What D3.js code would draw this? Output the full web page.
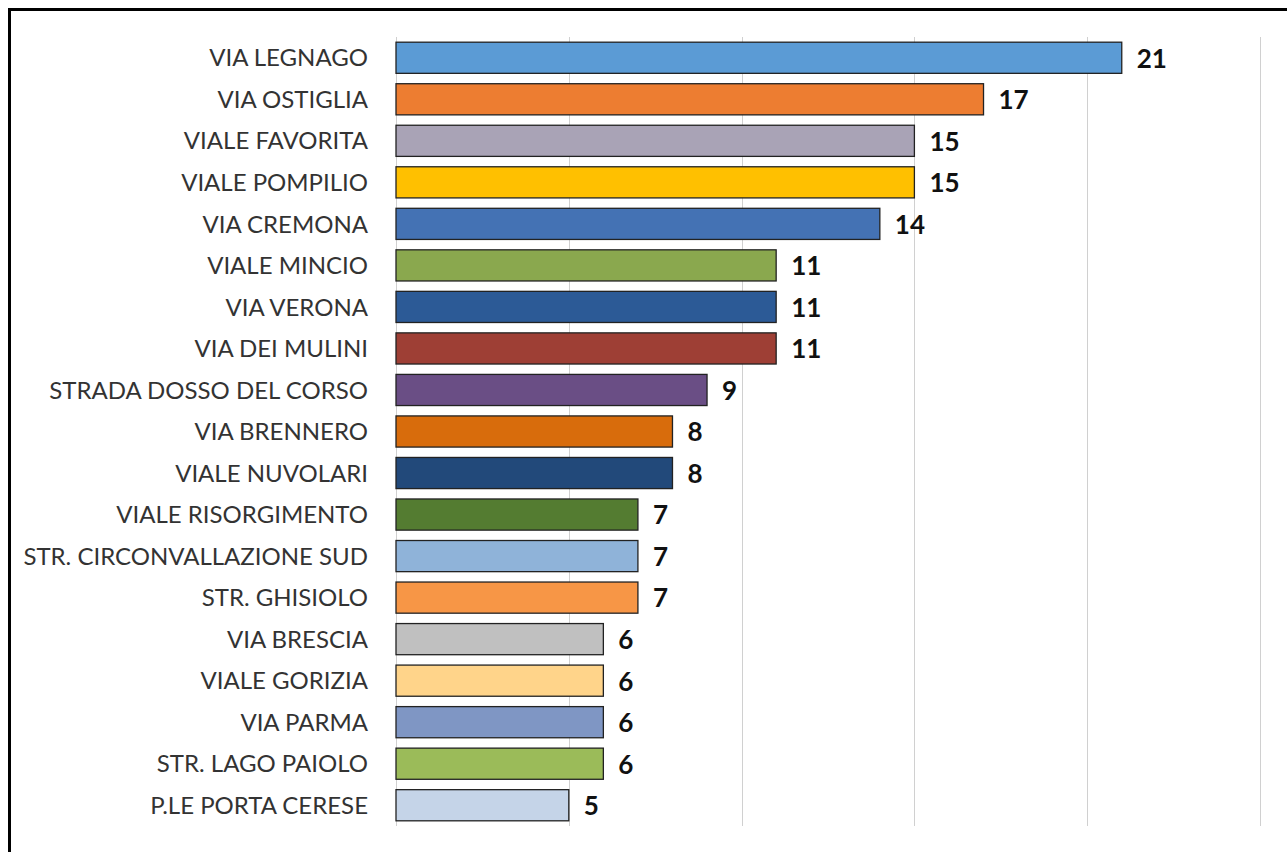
<!DOCTYPE html>
<html>
<head>
<meta charset="utf-8">
<script src="https://cdn.jsdelivr.net/npm/d3@7"></script>
<style>
  body { margin: 0; background: #fff; }
  svg { display: block; }
</style>
</head>
<body>
<div id="chart"></div>
<script>
// data
const streets = [
    "VIA LEGNAGO", "VIA OSTIGLIA", "VIALE FAVORITA", "VIALE POMPILIO", "VIA CREMONA",
    "VIALE MINCIO", "VIA VERONA", "VIA DEI MULINI", "STRADA DOSSO DEL CORSO", "VIA BRENNERO",
    "VIALE NUVOLARI", "VIALE RISORGIMENTO", "STR. CIRCONVALLAZIONE SUD", "STR. GHISIOLO",
    "VIA BRESCIA", "VIALE GORIZIA", "VIA PARMA", "STR. LAGO PAIOLO", "P.LE PORTA CERESE"
];
const counts = [21, 17, 15, 15, 14, 11, 11, 11, 9, 8, 8, 7, 7, 7, 6, 6, 6, 6, 5];
const barColors = [
    "#5b9bd5", "#ed7d31", "#a9a3b6", "#ffc000", "#4472b4",
    "#8aa84e", "#2c5a96", "#9e3f35", "#6a4e85", "#d86c0c",
    "#22497a", "#547c31", "#8fb3d9", "#f79646", "#c0c0c0",
    "#ffd48a", "#7f96c4", "#9bbb59", "#c5d4e8"
];
const xTicks = [0, 5, 10, 15, 20, 25];

const width = 1287, height = 852;
const margin = {top: 37, right: 27, bottom: 26, left: 396};

const svg = d3.select("#chart")
    .append("svg")
    .attr("width", width)
    .attr("height", height);

// outer frame (only left and top edges show in the picture)
svg.append("rect")
    .attr("x", 9.5)
    .attr("y", 9.5)
    .attr("width", width + 20)
    .attr("height", height + 20)
    .attr("fill", "none")
    .attr("stroke", "#000")
    .attr("stroke-width", 3);

const x = d3.scaleLinear()
    .domain([0, 25])
    .range([margin.left, width - margin.right]);

const y = d3.scaleBand()
    .domain(streets)
    .range([margin.top, height - margin.bottom])
    .paddingInner(0.25)
    .paddingOuter(0.125);

// gridlines
svg.append("g")
    .selectAll("line")
    .data(xTicks)
    .join("line")
    .attr("x1", d => Math.round(x(d)) + 0.5)
    .attr("x2", d => Math.round(x(d)) + 0.5)
    .attr("y1", margin.top)
    .attr("y2", height - margin.bottom)
    .attr("stroke", "#d0d0d0")
    .attr("stroke-width", 1);

const rows = streets.map((s, i) => ({name: s, value: counts[i], color: barColors[i]}));

// bars
svg.append("g")
    .selectAll("rect")
    .data(rows)
    .join("rect")
    .attr("x", x(0))
    .attr("y", d => y(d.name))
    .attr("width", d => x(d.value) - x(0))
    .attr("height", y.bandwidth())
    .attr("fill", d => d.color)
    .attr("stroke", "#222")
    .attr("stroke-width", 1.3);

// category labels
svg.append("g")
    .selectAll("text")
    .data(rows)
    .join("text")
    .attr("x", margin.left - 28)
    .attr("y", d => y(d.name) + y.bandwidth() / 2)
    .attr("dy", "0.36em")
    .attr("text-anchor", "end")
    .style("font-family", "Lato, 'Open Sans', sans-serif")
    .style("font-size", "24px")
    .style("fill", "#333")
    .text(d => d.name);

// value labels
svg.append("g")
    .selectAll("text")
    .data(rows)
    .join("text")
    .attr("x", d => x(d.value) + 15)
    .attr("y", d => y(d.name) + y.bandwidth() / 2)
    .attr("dy", "0.38em")
    .style("font-family", "Lato, 'Open Sans', sans-serif")
    .style("font-size", "26px")
    .style("font-weight", "bold")
    .style("fill", "#111")
    .text(d => d.value);
</script>
</body>
</html>
